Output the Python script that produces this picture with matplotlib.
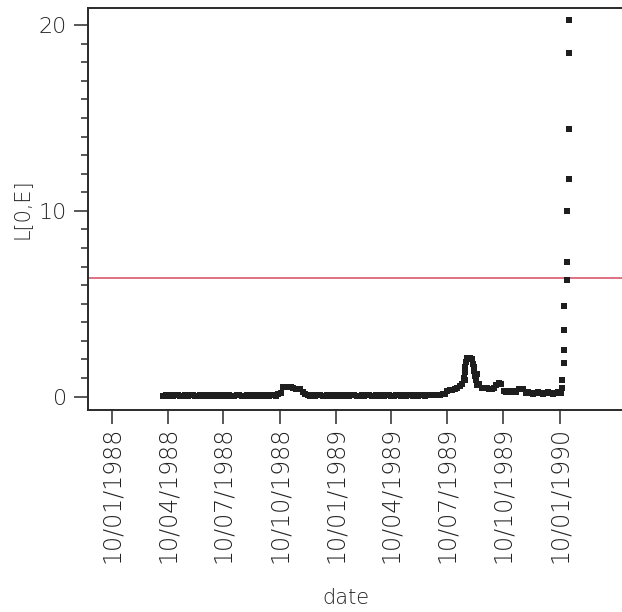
import matplotlib
matplotlib.use("Agg")
import matplotlib.pyplot as plt
import numpy as np
import pandas as pd
from datetime import datetime

# ---------------- data ----------------
base_start = "1988-04-03"
base_step_days = 4
base_values = [
    0.05, 0.08, 0.06, 0.10, 0.05, 0.07, 0.09, 0.04, 0.06, 0.08,
    0.05, 0.10, 0.07, 0.05, 0.06, 0.09, 0.05, 0.07, 0.04, 0.08,
    0.06, 0.10, 0.05, 0.07, 0.06, 0.09, 0.05, 0.08, 0.06, 0.04,
    0.07, 0.09, 0.05, 0.06, 0.08, 0.05, 0.10, 0.06, 0.07, 0.05,
    0.09, 0.06, 0.08, 0.05, 0.07, 0.10, 0.06, 0.12, 0.20,
    0.50, 0.50, 0.50, 0.50, 0.45, 0.40, 0.40, 0.40,
    0.25, 0.12, 0.08, 0.06, 0.09, 0.05, 0.07, 0.10, 0.06, 0.05,
    0.08, 0.06, 0.09, 0.05, 0.07, 0.06, 0.10, 0.05, 0.08, 0.06,
    0.07, 0.09, 0.05, 0.06, 0.08, 0.05, 0.10, 0.07, 0.06, 0.05,
    0.09, 0.06, 0.08, 0.05, 0.07, 0.10, 0.06, 0.05, 0.08, 0.07,
    0.06, 0.09, 0.05, 0.07, 0.08, 0.06, 0.10, 0.05, 0.07, 0.09,
    0.06, 0.08, 0.10, 0.07, 0.09, 0.08,
    0.10, 0.12, 0.15,
    0.30, 0.35, 0.35,
    0.40, 0.45, 0.55, 0.70,
    1.30, 2.10, 2.10, 2.00, 1.60, 1.20, 0.70, 0.45,
    0.45, 0.45, 0.40, 0.40, 0.45,
    0.60, 0.75, 0.70,
    0.30, 0.25, 0.30, 0.25, 0.30,
    0.25, 0.40, 0.40,
    0.40, 0.20, 0.25, 0.20, 0.15, 0.20, 0.25, 0.20, 0.15, 0.20,
    0.25, 0.20, 0.15, 0.20, 0.25, 0.20,
]

peak_dates = ["1989-08-07", "1989-08-08", "1989-08-08", "1989-08-09",
              "1989-08-10", "1989-08-22", "1989-08-23", "1989-08-25",
              "1989-08-27", "1989-08-29"]
peak_values = [1.0, 1.6, 0.9, 1.3, 1.85, 1.75, 1.4, 1.1, 0.9, 0.6]

spike_dates = ["1990-01-12", "1990-01-14", "1990-01-14",
               "1990-01-17", "1990-01-17", "1990-01-17", "1990-01-17",
               "1990-01-22", "1990-01-22", "1990-01-22",
               "1990-01-25", "1990-01-25", "1990-01-25", "1990-01-25"]
spike_values = [0.20, 0.47, 0.91,
                1.81, 2.53, 3.60, 4.86,
                6.29, 7.24, 10.0,
                11.7, 14.4, 18.5, 20.3]

threshold = 6.4

xtick_labels = ["10/01/1988", "10/04/1988", "10/07/1988", "10/10/1988",
                "10/01/1989", "10/04/1989", "10/07/1989", "10/10/1989",
                "10/01/1990"]
ytick_major = [0, 10, 20]
x_label = "date"
y_label = "L[0,E]"

# ---------------- build ----------------
base_dates = pd.date_range(base_start, periods=len(base_values),
                           freq=f"{base_step_days}D")
all_dates = list(base_dates) + list(pd.to_datetime(peak_dates)) + list(pd.to_datetime(spike_dates))
all_values = list(base_values) + peak_values + spike_values

W, H = 622, 612
fig = plt.figure(figsize=(W / 100, H / 100), dpi=100)
ax = fig.add_axes([88 / W, (H - 410) / H, (W - 88) / W, (410 - 8) / H])

ink = "#2a2a2a"
txt = "#222222"
fw = "light"
ax.plot(all_dates, all_values, linestyle="none", marker="s",
        markersize=4.4, markeredgewidth=0, color="#1e1e1e", zorder=3)
ax.axhline(threshold, color="#d44a62", linewidth=1.1, zorder=2)

ax.set_xlim(datetime(1987, 12, 2), datetime(1990, 4, 22))
ax.set_ylim(-0.72, 20.92)

tick_pos = [datetime.strptime(s, "%d/%m/%Y") for s in xtick_labels]
ax.set_xticks(tick_pos)
ax.set_xticklabels(xtick_labels, rotation=90, fontsize=17, color=txt, fontweight=fw)
ax.set_yticks(ytick_major)
ax.set_yticklabels([str(v) for v in ytick_major], fontsize=16, color=txt, fontweight=fw)
ax.set_yticks(np.arange(0, 21, 1), minor=True)

ax.tick_params(axis="both", which="major", length=10, width=1.1,
               color=ink, direction="out")
ax.tick_params(axis="y", which="major", pad=5)
ax.tick_params(axis="x", which="major", pad=2)
ax.tick_params(axis="y", which="minor", length=5, width=1.1, color=ink)

for side in ["left", "bottom", "top"]:
    ax.spines[side].set_color(ink)
    ax.spines[side].set_linewidth(1.4)
ax.spines["right"].set_visible(False)

ax.set_xlabel(x_label, fontsize=15, color=txt, fontweight=fw)
ax.xaxis.set_label_coords((346 - 88) / (W - 88), -(598 - 410) / (410 - 8), transform=ax.transAxes)
ax.xaxis.label.set_va("center")
ax.set_ylabel(y_label, fontsize=15, color=txt, fontweight=fw)
ax.yaxis.set_label_coords(-(88 - 22) / (W - 88), 0.5)
ax.yaxis.label.set_va("center")

fig.savefig("out.png", dpi=100)
